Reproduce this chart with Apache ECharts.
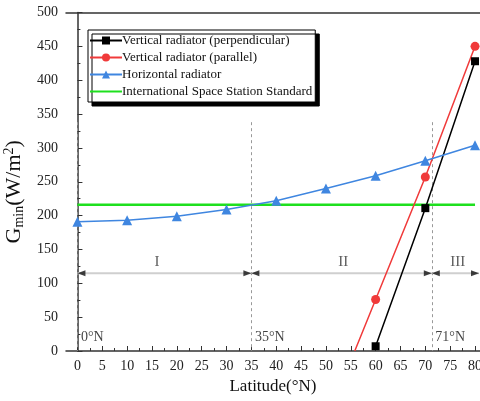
<!DOCTYPE html>
<html>
<head>
<meta charset="utf-8">
<script src="https://cdn.jsdelivr.net/npm/echarts@6/dist/echarts.min.js"></script>
<style>
  html, body { margin: 0; padding: 0; background: #fff; }
  #chart { width: 480px; height: 401px; }
</style>
</head>
<body>
<div id="chart"></div>
<script>
// Latitude samples (°N) and minimum irradiance G_min (W/m²)
const latitudes = [0, 10, 20, 30, 40, 50, 60, 70, 80];
const horizontal = [191, 193, 199, 209, 222, 240, 259, 281, 304];
const perpLat = [60, 70, 80];
const perpendicular = [7, 211, 428];
const paraLat = [55.8, 60, 70, 80];
const parallel = [0, 76, 257, 450];
const issLat = [0, 80];
const issStandard = [216, 216];

// Zone boundaries and labels
const zoneBounds = [0, 35, 71.3];
const zoneBoundLabels = ['0°N', '35°N', '71°N'];
const zoneNames = ['I', 'II', 'III'];
const zoneNameLat = [16, 53.5, 76.5];

const xTicks = [];
for (let v = 0; v <= 80; v += 5) xTicks.push(v);
const xMinorTicks = [];
for (let v = 2.5; v < 81; v += 5) xMinorTicks.push(v);

const serif = 'Liberation Serif';
const arrowY = 115;
const boundTop = 338;
const xMin = -2.3, xMax = 81.0;

const chart = echarts.init(document.getElementById('chart'));

const tickLabel = { fontFamily: serif, fontSize: 14, color: '#222' };
const blank = { color: 'rgba(0,0,0,0)' };

const option = {
  animation: false,
  backgroundColor: '#fff',
  grid: { left: 66, right: 0, top: 12.5, bottom: 50, outerBoundsMode: 'none' },
  legend: {
    orient: 'vertical',
    left: 88, top: 30,
    itemGap: 4,
    itemWidth: 32, itemHeight: 10,
    padding: [4, 3, 4, 1],
    backgroundColor: '#fff',
    borderColor: '#000', borderWidth: 1,
    shadowColor: '#000', shadowBlur: 0, shadowOffsetX: 4, shadowOffsetY: 4,
    textStyle: { fontFamily: serif, fontSize: 13, color: '#111', padding: [0, 0, 0, -5] },
    data: [
      'Vertical radiator (perpendicular)',
      'Vertical radiator (parallel)',
      'Horizontal radiator',
      { name: 'International Space Station Standard', itemStyle: { opacity: 0 } }
    ]
  },
  xAxis: [
    {
      type: 'value', min: xMin, max: xMax,
      name: 'Latitude(°N)', nameLocation: 'middle', nameGap: 26,
      nameTextStyle: { fontFamily: serif, fontSize: 17, color: '#111' },
      axisLine: { lineStyle: { color: '#333', width: 1.5 } },
      axisTick: { inside: true, length: 5, customValues: xTicks, lineStyle: { color: '#333' } },
      axisLabel: { customValues: xTicks, margin: 8, ...tickLabel },
      splitLine: { show: false }
    },
    {
      type: 'value', min: xMin, max: xMax, position: 'bottom',
      axisLine: { show: false },
      axisTick: { inside: true, length: 3, customValues: xMinorTicks, lineStyle: { color: '#333' } },
      axisLabel: { show: false },
      splitLine: { show: false }
    },
    {
      type: 'value', min: xMin, max: xMax, position: 'top',
      axisLine: { lineStyle: { color: '#333', width: 1.5 } },
      axisTick: { show: false }, axisLabel: { show: false }, splitLine: { show: false }
    }
  ],
  yAxis: {
    type: 'value', min: 0, max: 500, interval: 50,
    name: '{b|G}{sub|min}{b|(W/m}{sup|2}{b|)}',
    nameLocation: 'middle', nameGap: 30, nameRotate: 90,
    nameTextStyle: {
      fontFamily: serif, fontSize: 22, color: '#111',
      padding: [0, 20, 0, 0],
      rich: {
        b: { fontFamily: serif, fontSize: 22, color: '#111', lineHeight: 26 },
        sub: { fontFamily: serif, fontSize: 14, color: '#111', lineHeight: 26, padding: [10, 0, 0, 0] },
        sup: { fontFamily: serif, fontSize: 14, color: '#111', lineHeight: 26, padding: [0, 0, 10, 0] }
      }
    },
    axisLine: { show: true, lineStyle: { color: '#333', width: 1.5 } },
    axisTick: { show: true, inside: true, length: 5, lineStyle: { color: '#333' } },
    minorTick: { show: true, splitNumber: 2, length: 3, lineStyle: { color: '#333' } },
    axisLabel: { margin: 8, ...tickLabel },
    splitLine: { show: false }
  },
  series: [
    {
      name: 'Vertical radiator (perpendicular)', type: 'line',
      data: perpLat.map((x, i) => [x, perpendicular[i]]),
      symbol: 'rect', symbolSize: 8,
      lineStyle: { color: '#000', width: 1.5 },
      itemStyle: { color: '#000' }, z: 5
    },
    {
      name: 'Vertical radiator (parallel)', type: 'line',
      data: paraLat.map((x, i) => i === 0
        ? { value: [x, parallel[i]], symbol: 'none' }
        : [x, parallel[i]]),
      symbol: 'circle', symbolSize: 9,
      lineStyle: { color: '#f03a3a', width: 1.5 },
      itemStyle: { color: '#f03a3a' }, z: 5
    },
    {
      name: 'Horizontal radiator', type: 'line',
      data: latitudes.map((x, i) => [x, horizontal[i]]),
      symbol: 'triangle', symbolSize: 10,
      lineStyle: { color: '#3f86e0', width: 1.5 },
      itemStyle: { color: '#3f86e0' }, z: 5
    },
    {
      name: 'International Space Station Standard', type: 'line',
      data: issLat.map((x, i) => [x, issStandard[i]]),
      symbol: 'none',
      lineStyle: { color: '#1ee01e', width: 2.5 },
      itemStyle: { color: '#1ee01e' }, z: 4
    },
    // zone boundaries
    {
      type: 'line', silent: true, symbol: 'none', z: 1,
      data: [],
      markLine: {
        silent: true, symbol: 'none',
        label: { show: false },
        lineStyle: { color: '#999', width: 1, type: [3, 3] },
        data: zoneBounds.map(x => [{ coord: [x, boundTop] }, { coord: [x, 0] }])
      }
    },
    // zone span line
    {
      type: 'line', silent: true, symbol: 'none', z: 2,
      data: [[0, arrowY], [xMax - 0.2, arrowY]],
      lineStyle: { color: '#cfcfcf', width: 2 }
    },
    // arrowheads pointing left
    {
      type: 'scatter', silent: true, z: 3,
      symbol: 'path://M10,0 L0,4 L10,8 Z', symbolSize: [8, 6], symbolOffset: [4, 0],
      itemStyle: { color: '#111' },
      data: zoneBounds.map(x => [x, arrowY])
    },
    // arrowheads pointing right
    {
      type: 'scatter', silent: true, z: 3,
      symbol: 'path://M0,0 L10,4 L0,8 Z', symbolSize: [8, 6], symbolOffset: [-4, 0],
      itemStyle: { color: '#111' },
      data: [[35, arrowY], [71.3, arrowY], [xMax - 0.2, arrowY]]
    },
    // zone names
    {
      type: 'scatter', silent: true, symbol: 'circle', symbolSize: 1, z: 3,
      itemStyle: blank,
      label: {
        show: true, position: 'inside', formatter: p => zoneNames[p.dataIndex],
        fontFamily: serif, fontSize: 15, color: '#333'
      },
      data: zoneNameLat.map(x => [x, 131])
    },
    // boundary labels
    {
      type: 'scatter', silent: true, symbol: 'circle', symbolSize: 1, z: 3,
      itemStyle: blank,
      label: {
        show: true, position: 'right', distance: 3, formatter: p => zoneBoundLabels[p.dataIndex],
        fontFamily: serif, fontSize: 14, color: '#111'
      },
      data: zoneBounds.map(x => [x, 20])
    }
  ]
};

chart.setOption(option);
</script>
</body>
</html>
